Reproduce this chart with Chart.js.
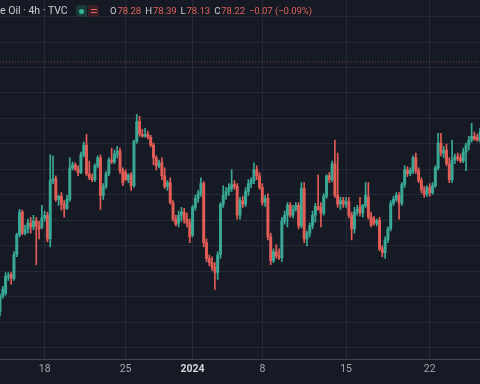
<!DOCTYPE html>
<html>
<head>
<meta charset="utf-8">
<script src="https://cdn.jsdelivr.net/npm/chart.js@4.4.1/dist/chart.umd.min.js"></script>
<style>
html,body{margin:0;padding:0;background:#161a25;overflow:hidden}
#wrap{position:relative;width:480px;height:384px;background:#161a25}
canvas{display:block}
.hdr{position:absolute;top:4px;font-family:Roboto,"DejaVu Sans",sans-serif;font-size:10.5px;line-height:14px;white-space:nowrap;color:#c9ccd4}
.vals{font-size:9.6px;letter-spacing:-0.1px}
.vals b{font-weight:normal;margin-right:1px}
.red{color:#e0625a;margin-right:4px}
.pill{position:absolute;top:5px;width:11px;height:12px;border-radius:3px}
</style>
</head>
<body>
<div id="wrap">
<canvas id="c" width="480" height="384"></canvas>
<div class="hdr" style="left:0px">e Oil · 4h · TVC</div>
<div class="pill" style="left:76px;background:#1c3a37"><span style="position:absolute;left:3px;top:4px;width:5px;height:5px;border-radius:50%;background:#2fb39a"></span></div>
<div class="pill" style="left:88px;background:#3d1f27"><span style="position:absolute;left:3px;top:4px;width:6px;height:1px;background:#e0625a"></span><span style="position:absolute;left:3px;top:7px;width:6px;height:1px;background:#e0625a"></span></div>
<div class="hdr vals" style="left:110px"><b>O</b><span class="red">78.28</span><b>H</b><span class="red">78.39</span><b>L</b><span class="red">78.13</span><b>C</b><span class="red">78.22</span><span class="red">−0.07 (−0.09%)</span></div>
</div>
<script>
// 4h candles, USOIL, mid-Dec 2023 to late Jan 2024
const openP = [68.40,69.02,69.14,69.80,69.88,69.72,70.65,71.43,72.32,71.50,
71.66,71.89,71.74,71.97,71.78,71.74,72.09,72.20,71.27,73.56,
73.64,72.82,72.94,72.63,72.47,72.82,74.06,74.18,74.02,73.87,
74.57,74.95,73.83,73.67,73.60,74.14,74.45,72.98,73.33,73.83,
74.37,74.29,74.60,74.72,73.95,73.87,73.60,73.79,73.36,75.11,
75.88,75.38,75.30,75.38,75.26,74.95,74.45,74.14,74.26,73.75,
73.33,73.48,72.70,72.05,71.89,72.20,72.32,72.05,71.89,71.43,
72.51,72.86,73.05,73.44,71.12,70.50,70.34,70.15,69.95,70.65,
72.63,72.98,73.13,73.25,73.40,73.33,72.20,72.78,72.63,73.13,
73.44,73.56,73.98,73.75,73.29,72.70,72.86,71.35,70.42,70.77,
70.61,70.53,71.97,72.20,72.59,72.20,72.43,72.59,71.78,73.25,
71.27,71.50,71.78,72.20,72.55,72.51,72.28,72.94,73.75,73.60,
74.22,72.98,72.63,72.78,72.63,72.74,72.20,71.66,72.32,72.51,
72.28,72.59,72.90,72.12,72.05,71.89,72.01,70.88,70.73,71.23,
71.66,72.67,72.82,72.98,72.67,73.40,73.98,73.83,73.91,74.45,
73.95,73.56,73.21,73.02,73.29,73.09,73.36,74.06,75.03,74.64,
74.76,74.22,73.60,74.37,74.49,74.45,74.33,74.68,74.95,75.15,
75.30,75.26,75.15];
const highP = [69.10,69.41,69.95,69.95,69.95,70.77,71.50,72.43,72.40,71.81,
72.05,72.12,72.20,72.12,71.97,72.59,72.36,72.32,74.57,74.53,
73.75,72.98,73.09,72.78,72.98,74.45,74.29,74.26,74.14,74.68,
75.07,75.38,74.33,73.83,74.22,74.53,74.57,73.44,73.91,74.45,
74.84,74.76,74.91,74.84,74.06,73.98,73.83,73.87,75.15,76.16,
76.08,75.57,75.61,75.50,75.34,75.03,74.53,74.37,74.45,74.06,
73.56,73.67,72.78,72.20,72.36,72.51,72.47,72.28,72.05,72.59,
72.98,73.17,73.67,73.52,71.27,70.65,70.57,70.34,70.77,72.70,
73.36,73.29,73.44,73.98,73.56,73.44,72.90,72.94,73.29,73.60,
73.67,74.26,74.14,73.87,73.44,72.98,73.05,71.50,70.88,71.04,
70.88,72.12,72.36,72.70,72.70,72.59,72.70,72.70,73.48,73.48,
71.58,71.89,72.36,72.67,73.79,72.70,73.05,73.79,73.87,74.33,
75.15,74.64,72.90,72.90,72.90,72.90,72.32,72.51,72.59,72.90,
72.63,73.48,73.48,72.32,72.16,72.05,72.12,71.00,71.35,71.74,
72.78,72.94,73.09,73.09,73.48,74.14,74.10,74.06,74.53,74.64,
74.06,73.67,73.33,73.36,73.44,73.48,74.14,75.42,75.42,74.91,
74.99,74.45,75.15,74.60,74.64,74.60,74.84,75.03,75.30,75.81,
75.46,75.38,75.61];
const lowP = [68.25,68.94,69.06,69.64,69.49,69.64,70.57,71.35,71.43,71.43,
71.50,71.50,71.62,70.26,71.27,71.66,71.97,71.15,70.96,73.44,
72.74,72.59,72.40,72.12,72.43,72.74,73.98,73.95,73.75,73.83,
74.49,73.75,73.60,73.52,73.52,74.06,72.43,72.82,73.25,73.75,
74.22,74.22,74.45,73.83,73.36,73.56,73.48,73.17,73.29,75.03,
75.30,75.26,75.26,75.19,74.88,74.18,73.98,74.06,73.60,73.25,
73.17,72.63,71.97,71.78,71.74,71.97,71.89,71.74,71.12,71.35,
72.40,72.70,72.94,70.96,70.38,70.22,70.03,69.29,69.68,70.50,
72.51,72.82,72.98,73.13,73.21,72.05,72.05,72.51,72.55,72.98,
73.29,73.44,73.60,73.21,72.59,72.55,71.23,70.26,70.34,70.50,
70.46,70.38,71.85,71.74,72.12,72.09,72.36,71.66,71.70,71.12,
71.00,71.35,71.66,71.93,72.40,71.74,72.20,72.86,73.48,73.52,
72.90,72.51,72.43,72.51,72.51,72.09,71.23,71.50,72.20,72.16,
72.12,72.51,72.05,71.74,71.81,71.78,70.81,70.57,70.50,71.12,
71.58,72.59,72.74,72.05,72.59,73.29,73.71,73.75,73.83,73.83,
73.48,73.09,72.90,72.94,72.94,73.02,73.29,73.98,74.53,74.45,
74.14,73.48,73.48,74.22,74.33,74.26,74.26,73.95,74.76,75.07,
75.15,75.11,75.07];
const closeP = [69.02,69.29,69.80,69.84,69.72,70.65,71.43,72.32,71.50,71.66,
71.89,71.74,71.97,71.78,71.66,72.09,72.20,71.27,73.56,73.64,
72.82,72.94,72.63,72.47,72.82,74.06,74.18,74.02,73.87,74.57,
74.95,73.83,73.67,73.60,74.14,74.45,72.98,73.33,73.83,74.37,
74.29,74.60,74.72,73.95,73.48,73.60,73.79,73.36,75.11,75.88,
75.38,75.30,75.38,75.26,74.95,74.45,74.14,74.26,73.75,73.33,
73.48,72.70,72.05,71.85,72.20,72.32,72.05,71.89,71.35,72.51,
72.86,73.05,73.44,71.12,70.50,70.34,70.15,69.95,70.65,72.63,
72.98,73.13,73.29,73.40,73.33,72.20,72.78,72.63,73.13,73.44,
73.56,73.98,73.75,73.29,72.70,72.86,71.35,70.42,70.77,70.61,
70.53,71.97,72.20,72.59,72.20,72.43,72.59,71.78,73.25,71.27,
71.50,71.78,72.20,72.55,72.43,72.28,72.94,73.75,73.60,74.22,
72.98,72.63,72.78,72.63,72.74,72.20,71.66,72.32,72.43,72.28,
72.59,72.98,72.12,71.81,71.89,71.97,70.88,70.73,71.23,71.66,
72.67,72.82,72.98,72.67,73.40,73.98,73.83,73.95,74.45,73.95,
73.56,73.21,73.02,73.29,73.09,73.36,74.06,75.03,74.64,74.76,
74.22,73.60,74.37,74.49,74.41,74.33,74.68,74.95,75.15,75.30,
75.19,75.15,75.46];
// bar index where each weekly tick sits, and its label
const tickIndex = [16, 45, 69, 94, 124, 154];
const tickLabels = ["18", "25", "2024", "8", "15", "22"];
const lastPrice = 78.22;

const UP = '#3aa896', DOWN = '#e25d55';
const categories = openP.map((_, i) => String(i));
const cols = openP.map((o, i) => closeP[i] >= o ? UP : DOWN);
const tickMap = {};
tickIndex.forEach((t, k) => tickMap[t] = tickLabels[k]);

new Chart(document.getElementById('c'), {
  data: {
    labels: categories,
    datasets: [
      { type: 'line', data: categories.map(() => lastPrice), borderColor: 'rgba(226,93,85,0.55)', borderWidth: 1, borderDash: [1, 2], pointRadius: 0, order: 0 },
      { type: 'bar', data: openP.map((o, i) => [lowP[i], highP[i]]), backgroundColor: cols, barThickness: 1, grouped: false, order: 2 },
      { type: 'bar', data: openP.map((o, i) => [o, closeP[i]]), backgroundColor: cols, barThickness: 2.3, grouped: false, order: 1 }
    ]
  },
  options: {
    responsive: false,
    animation: false,
    layout: { padding: { left: 0, right: 0, top: 0, bottom: 4 } },
    plugins: { legend: { display: false }, tooltip: { enabled: false } },
    scales: {
      x: {
        type: 'category',
        offset: false,
        grid: { color: '#262a36', drawTicks: false, offset: false },
        border: { display: true, color: '#434651', width: 1 },
        ticks: {
          autoSkip: false, maxRotation: 0, padding: 4,
          color: ctx => (ctx.tick && ctx.tick.label === '2024') ? '#d1d4dc' : '#a3a6af',
          font: ctx => ({ family: 'Roboto', size: 10.5, weight: (ctx.tick && ctx.tick.label === '2024') ? 'bold' : 'normal' }),
          callback: (v, i) => (tickMap[i] !== undefined ? tickMap[i] : null)
        }
      },
      y: {
        min: 66.54, max: 80.65,
        grid: { color: '#262a36', drawTicks: false },
        border: { display: false },
        ticks: { display: false, stepSize: 1, includeBounds: false }
      }
    }
  }
});
</script>
</body>
</html>
